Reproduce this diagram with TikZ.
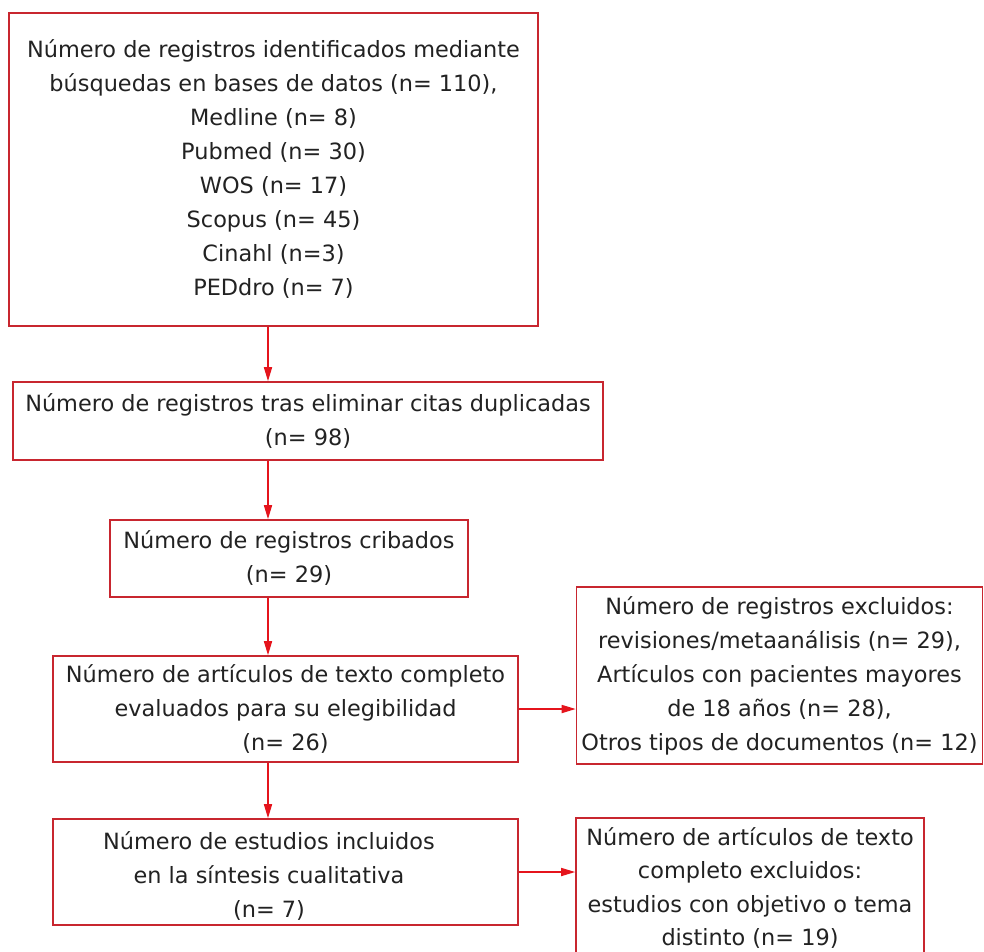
\documentclass[tikz,border=0pt]{standalone}
\usepackage{fontspec}
\setmainfont{DejaVu Sans}
\usepackage{tikz}
\usetikzlibrary{arrows.meta}
\usetikzlibrary{calc}
\definecolor{cajared}{HTML}{C8262F}
\definecolor{flechared}{HTML}{E5141C}
\definecolor{texto}{HTML}{222222}

\begin{document}
\begin{tikzpicture}[x=1pt,y=-1pt,
	caja/.style={draw=cajared, line width=1.6pt, align=center, text=texto, inner sep=1pt, font=\fontsize{22.4}{34}\selectfont},
	letra/.style={align=center, text=texto, inner sep=0pt, font=\fontsize{22.4}{34}\selectfont},
	flecha/.style={draw=flechared, line width=1.6pt, -{Triangle[length=14pt,width=8pt]}}]
		%% White page cut to the size of the original picture (1pt = 1 pixel, y runs down)
		\clip (0,0) rectangle (984,951);
		\fill[white] (0,0) rectangle (984,951);
		%% All the downward arrows share this x
		\coordinate (eje) at (268,0);
		%% Left column
		\node[caja, minimum width=529, minimum height=313] (busq) at (273.5,169.5)
		{Número de registros identificados mediante\\
			búsquedas en bases de datos (n= 110),\\
			Medline (n= 8)\\
			Pubmed (n= 30)\\
			WOS (n= 17)\\
			Scopus (n= 45)\\
			Cinahl (n=3)\\
			PEDdro (n= 7)};
		\node[caja, minimum width=590, minimum height=78] (dupl) at (308,421)
		{Número de registros tras eliminar citas duplicadas\\ (n= 98)};
		\node[caja, minimum width=358, minimum height=77] (crib) at (289,558.5)
		{Número de registros cribados\\ (n= 29)};
		\node[caja, minimum width=465, minimum height=106] (eleg) at (285.5,709)
		{Número de artículos de texto completo\\ evaluados para su elegibilidad\\ (n= 26)};
		\node[caja, minimum width=465, minimum height=106] (incl) at (285.5,872) {};
		\node[letra] (incltxt) at (269,876)
		{Número de estudios incluidos\\ en la síntesis cualitativa\\ (n= 7)};
		%% Right column
		\node[caja, minimum width=406, minimum height=177] (excl) at (779.5,675.5)
		{Número de registros excluidos:\\
			revisiones/metaanálisis (n= 29),\\
			Artículos con pacientes mayores\\
			de 18 años (n= 28),\\
			Otros tipos de documentos (n= 12)};
		\node[caja, minimum width=348, minimum height=140, font=\fontsize{22.4}{33.4}\selectfont] (exclt) at (750,888)
		{Número de artículos de texto\\ completo excluidos:\\ estudios con objetivo o tema\\ distinto (n= 19)};
		%% Arrows
		\draw[flecha] (busq.south -| eje) -- (dupl.north -| eje);
		\draw[flecha] (dupl.south -| eje) -- (crib.north -| eje);
		\draw[flecha] (crib.south -| eje) -- (eleg.north -| eje);
		\draw[flecha] (eleg.south -| eje) -- (incl.north -| eje);
		\draw[flecha] (eleg.east) -- (eleg.east -| excl.west);
		\draw[flecha] (incl.east) -- (incl.east -| exclt.west);
	\end{tikzpicture}
\end{document}
